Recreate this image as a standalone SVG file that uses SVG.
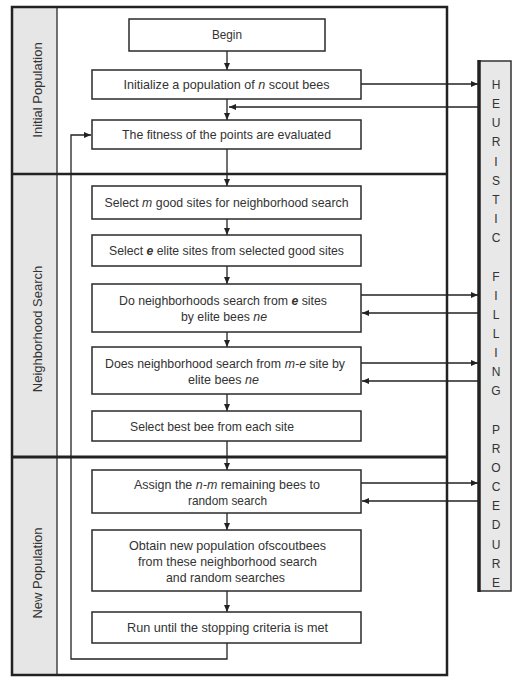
<svg xmlns="http://www.w3.org/2000/svg" width="513" height="677" viewBox="0 0 513 677">
<style>
.box{fill:#fff;stroke:#2a2a2a;stroke-width:1.5}
.t{font-family:"Liberation Sans",Arial,sans-serif;font-size:13px;fill:#333;text-anchor:middle}
.s{font-family:"Liberation Sans",Arial,sans-serif;font-size:13px;fill:#333;text-anchor:start}
.lbl{font-family:"Liberation Sans",Arial,sans-serif;font-size:13px;fill:#333;text-anchor:middle}
.hf{font-family:"Liberation Sans",Arial,sans-serif;font-size:12px;fill:#333;text-anchor:middle}
.c{fill:none;stroke:#222;stroke-width:1.3}
.i{font-style:italic}
.bi{font-style:italic;font-weight:bold}
</style>
<defs>
<marker id="ah" markerWidth="7" markerHeight="6" refX="7" refY="3" orient="auto" markerUnits="userSpaceOnUse">
<path d="M0,0 L7,3 L0,6 z" fill="#222"/>
</marker>
</defs>
<rect width="513" height="677" fill="#fff"/>
<g id="frame">
<rect x="12" y="7" width="45" height="668" fill="#e6e6e6"/>
<line x1="57" y1="7" x2="57" y2="675" stroke="#2a2a2a" stroke-width="1.3"/>
<rect x="12" y="7" width="435" height="668" fill="none" stroke="#222" stroke-width="2.5"/>
<line x1="12" y1="174" x2="447" y2="174" stroke="#222" stroke-width="2.7"/>
<line x1="12" y1="457" x2="447" y2="457" stroke="#222" stroke-width="3.2"/>
<text class="lbl" transform="translate(42,90) rotate(-90)">Initial Population</text>
<text class="lbl" transform="translate(42,329) rotate(-90)">Neighborhood Search</text>
<text class="lbl" transform="translate(42,573) rotate(-90)">New Population</text>
</g>
<g id="heuristic">
<rect x="479" y="61" width="32" height="530" fill="#e8e8e8" stroke="#333" stroke-width="1.5"/>
<line x1="479" y1="60" x2="479" y2="592" stroke="#222" stroke-width="3.5"/>
<text class="hf"><tspan x="496" y="89">H</tspan><tspan x="496" y="108.15">E</tspan><tspan x="496" y="127.3">U</tspan><tspan x="496" y="146.45">R</tspan><tspan x="496" y="165.6">I</tspan><tspan x="496" y="184.75">S</tspan><tspan x="496" y="203.9">T</tspan><tspan x="496" y="223.05">I</tspan><tspan x="496" y="242.2">C</tspan><tspan x="496" y="280.5">F</tspan><tspan x="496" y="299.65">I</tspan><tspan x="496" y="318.8">L</tspan><tspan x="496" y="337.95">L</tspan><tspan x="496" y="357.1">I</tspan><tspan x="496" y="376.25">N</tspan><tspan x="496" y="395.4">G</tspan><tspan x="496" y="433.7">P</tspan><tspan x="496" y="452.85">R</tspan><tspan x="496" y="472">O</tspan><tspan x="496" y="491.15">C</tspan><tspan x="496" y="510.3">E</tspan><tspan x="496" y="529.45">D</tspan><tspan x="496" y="548.6">U</tspan><tspan x="496" y="567.75">R</tspan><tspan x="496" y="586.9">E</tspan></text>
</g>
<g id="connectors">
<line class="c" x1="227" y1="51" x2="227" y2="70" marker-end="url(#ah)"/>
<line class="c" x1="227" y1="99" x2="227" y2="120" marker-end="url(#ah)"/>
<line class="c" x1="227" y1="149" x2="227" y2="186" marker-end="url(#ah)"/>
<line class="c" x1="227" y1="219" x2="227" y2="235" marker-end="url(#ah)"/>
<line class="c" x1="227" y1="266" x2="227" y2="284" marker-end="url(#ah)"/>
<line class="c" x1="227" y1="332" x2="227" y2="347" marker-end="url(#ah)"/>
<line class="c" x1="227" y1="394" x2="227" y2="411" marker-end="url(#ah)"/>
<line class="c" x1="227" y1="441" x2="227" y2="470" marker-end="url(#ah)"/>
<line class="c" x1="227" y1="513" x2="227" y2="530" marker-end="url(#ah)"/>
<line class="c" x1="227" y1="591" x2="227" y2="612" marker-end="url(#ah)"/>
<polyline class="c" points="227,643 227,659 71,659 71,135 91,135" marker-end="url(#ah)"/>
<line class="c" x1="361" y1="84" x2="478" y2="84" marker-end="url(#ah)"/>
<line class="c" x1="479" y1="107" x2="229" y2="107" marker-end="url(#ah)"/>
<line class="c" x1="361" y1="295" x2="478" y2="295" marker-end="url(#ah)"/>
<line class="c" x1="479" y1="313" x2="362" y2="313" marker-end="url(#ah)"/>
<line class="c" x1="361" y1="363" x2="478" y2="363" marker-end="url(#ah)"/>
<line class="c" x1="479" y1="381" x2="362" y2="381" marker-end="url(#ah)"/>
<line class="c" x1="361" y1="483" x2="478" y2="483" marker-end="url(#ah)"/>
<line class="c" x1="479" y1="501" x2="362" y2="501" marker-end="url(#ah)"/>
</g>
<g id="begin">
<rect class="box" x="129" y="19" width="196" height="32"/>
<text class="t" x="227" y="39" textLength="30" lengthAdjust="spacingAndGlyphs">Begin</text>
</g>
<g id="init">
<rect class="box" x="92" y="70" width="269" height="29"/>
<text class="s" x="123.5" y="89" style="font-size:12.6px" textLength="131.3" lengthAdjust="spacingAndGlyphs">Initialize a population of</text>
<text class="s i" x="258.3" y="89" textLength="7" lengthAdjust="spacingAndGlyphs">n</text>
<text class="s" x="268.8" y="89" textLength="60.7" lengthAdjust="spacingAndGlyphs">scout bees</text>
</g>
<g id="fitness">
<rect class="box" x="92" y="120" width="269" height="29"/>
<text class="t" x="226.5" y="139" textLength="209" lengthAdjust="spacingAndGlyphs">The fitness of the points are evaluated</text>
</g>
<g id="select-m">
<rect class="box" x="92" y="186" width="269" height="33"/>
<text class="s" x="104.5" y="207" textLength="34.2" lengthAdjust="spacingAndGlyphs">Select</text>
<text class="s i" x="142.1" y="207" textLength="10.2" lengthAdjust="spacingAndGlyphs">m</text>
<text class="s" x="155.8" y="207" textLength="192.7" lengthAdjust="spacingAndGlyphs">good sites for neighborhood search</text>
</g>
<g id="select-e">
<rect class="box" x="92" y="235" width="269" height="31"/>
<text class="s" x="109" y="255" textLength="34.1" lengthAdjust="spacingAndGlyphs">Select</text>
<text class="s bi" x="146.5" y="255" textLength="6.8" lengthAdjust="spacingAndGlyphs">e</text>
<text class="s" x="156.7" y="255" textLength="187.3" lengthAdjust="spacingAndGlyphs">elite sites from selected good sites</text>
</g>
<g id="elite-search">
<rect class="box" x="92" y="284" width="269" height="48"/>
<text class="s" x="119" y="305" style="font-size:12.3px" textLength="169" lengthAdjust="spacingAndGlyphs">Do neighborhoods search from</text>
<text class="s bi" x="291.6" y="305" textLength="6.8" lengthAdjust="spacingAndGlyphs">e</text>
<text class="s" x="301.7" y="305" textLength="25.3" lengthAdjust="spacingAndGlyphs">sites</text>
<text class="s" x="181" y="321" textLength="68.9" lengthAdjust="spacingAndGlyphs">by elite bees</text>
<text class="s i" x="253.3" y="321" textLength="13.7" lengthAdjust="spacingAndGlyphs">ne</text>
</g>
<g id="me-search">
<rect class="box" x="92" y="347" width="269" height="47"/>
<text class="s" x="105" y="368" style="font-size:12.3px" textLength="176" lengthAdjust="spacingAndGlyphs">Does neighborhood search from</text>
<text class="s i" x="284.8" y="368" textLength="21.2" lengthAdjust="spacingAndGlyphs">m-e</text>
<text class="s" x="309.3" y="368" textLength="35.7" lengthAdjust="spacingAndGlyphs">site by</text>
<text class="s" x="188" y="384" textLength="53.6" lengthAdjust="spacingAndGlyphs">elite bees</text>
<text class="s i" x="245.1" y="384" textLength="13.9" lengthAdjust="spacingAndGlyphs">ne</text>
</g>
<g id="select-best">
<rect class="box" x="92" y="411" width="269" height="30"/>
<text class="t" x="212" y="430.5" textLength="164" lengthAdjust="spacingAndGlyphs">Select best bee from each site</text>
</g>
<g id="assign">
<rect class="box" x="92" y="470" width="269" height="43"/>
<text class="s" x="134" y="489" textLength="58.3" lengthAdjust="spacingAndGlyphs">Assign the</text>
<text class="s i" x="195.8" y="489" textLength="21.5" lengthAdjust="spacingAndGlyphs">n-m</text>
<text class="s" x="220.7" y="489" textLength="99.3" lengthAdjust="spacingAndGlyphs">remaining bees to</text>
<text class="t" x="227.5" y="505" textLength="79" lengthAdjust="spacingAndGlyphs">random search</text>
</g>
<g id="obtain">
<rect class="box" x="92" y="530" width="269" height="61"/>
<text class="t" x="227.5" y="550" textLength="197" lengthAdjust="spacingAndGlyphs">Obtain new population ofscoutbees</text>
<text class="t" x="227.5" y="566" textLength="179" lengthAdjust="spacingAndGlyphs">from these neighborhood search</text>
<text class="t" x="225.5" y="582" textLength="119" lengthAdjust="spacingAndGlyphs">and random searches</text>
</g>
<g id="run">
<rect class="box" x="92" y="612" width="269" height="31"/>
<text class="t" x="227.5" y="632" textLength="201" lengthAdjust="spacingAndGlyphs">Run until the stopping criteria is met</text>
</g>
</svg>
